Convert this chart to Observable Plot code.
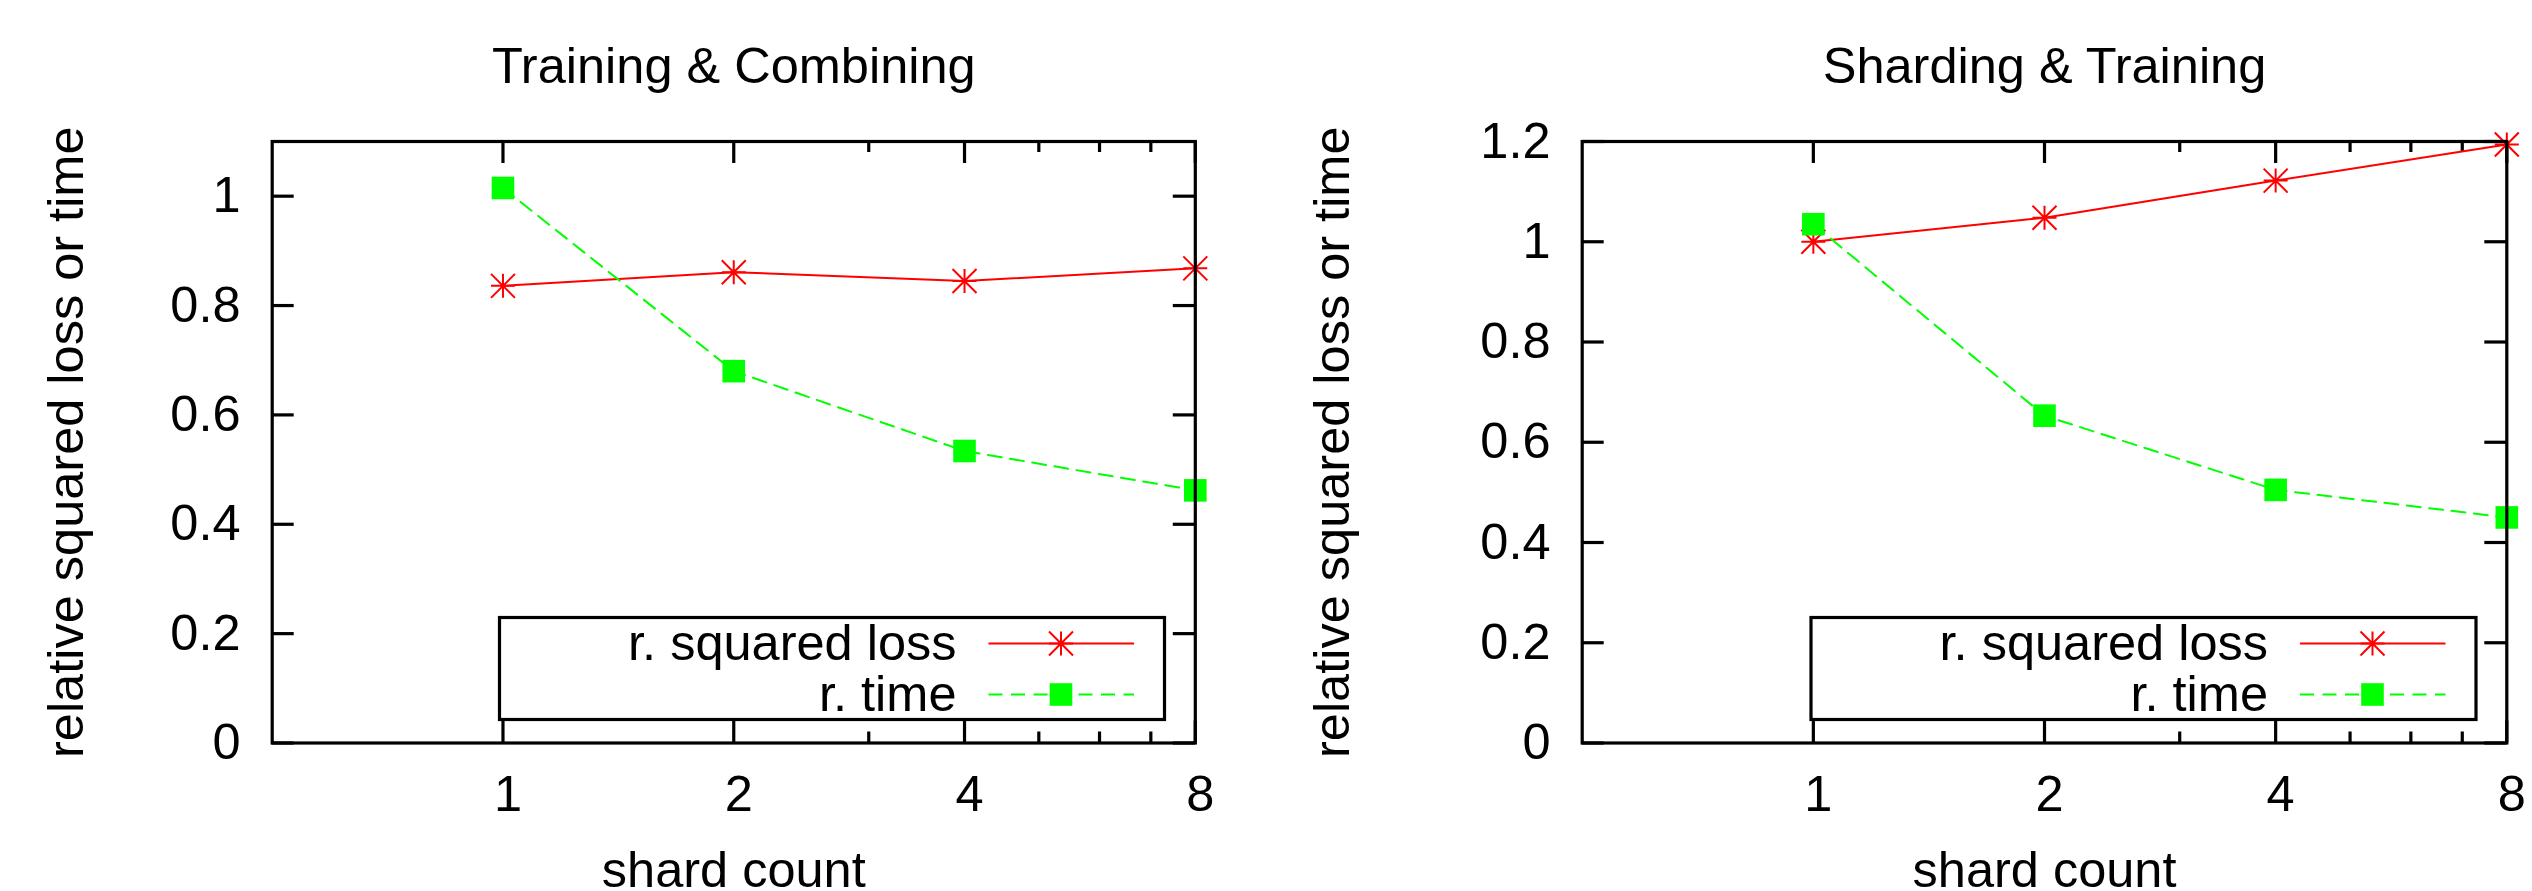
<!DOCTYPE html>
<html><head><meta charset="utf-8">
<script src="https://cdn.jsdelivr.net/npm/d3@7"></script>
<script src="https://cdn.jsdelivr.net/npm/@observablehq/plot@0.6"></script>
<style>
body{margin:0;background:#fff;}
#wrap{display:flex;width:2532px;height:891px;background:#fff;}
svg{display:block;}
</style></head><body><div id="wrap"></div>
<script>
// ---- data ----
const shardCounts = [1, 2, 4, 8];
const minorShardTicks = [3, 5, 6, 7];
const seriesNames = ["r. squared loss", "r. time"];
const panelTitles = ["Training & Combining", "Sharding & Training"];
const trainCombineLoss = [0.836, 0.861, 0.845, 0.868];
const trainCombineTime = [1.015, 0.680, 0.534, 0.462];
const shardTrainLoss = [1.000, 1.048, 1.122, 1.194];
const shardTrainTime = [1.035, 0.653, 0.505, 0.450];
const leftYTicks = [0, 0.2, 0.4, 0.6, 0.8, 1];
const rightYTicks = [0, 0.2, 0.4, 0.6, 0.8, 1, 1.2];
const xLabel = "shard count";
const yLabel = "relative squared loss or time";

// ---- styling ----
const FONT = "'Liberation Sans', Arial, Helvetica, sans-serif";
const FS = 50.5;
const RED = "#ff0000", GREEN = "#00ff00";
const DASH = "14,8.5";
const W = 1266, H = 891, MT = 141, MB = 148.5;

const asterisk8 = {draw(ctx, size) {
  const r = Math.sqrt(size / Math.PI);
  ctx.moveTo(-r, 0); ctx.lineTo(r, 0);
  ctx.moveTo(0, -r); ctx.lineTo(0, r);
  ctx.moveTo(-r, -r); ctx.lineTo(r, r);
  ctx.moveTo(-r, r); ctx.lineTo(r, -r);
}};
const squareSym = {draw(ctx, size) {
  const r = Math.sqrt(size / Math.PI);
  ctx.moveTo(-r, -r); ctx.lineTo(r, -r); ctx.lineTo(r, r); ctx.lineTo(-r, r); ctx.closePath();
}};
const STAR_R = 12, SQ_R = 11.3;

function panel(title, loss, time, yMax, yTicks, marginLeft, marginRight) {
  const fw = W - marginLeft - marginRight, fh = H - MT - MB;
  const lossRows = shardCounts.map((s, i) => ({s, v: loss[i]}));
  const timeRows = shardCounts.map((s, i) => ({s, v: time[i]}));
  const tk = {stroke: "black", strokeWidth: 3.2};
  const svg = Plot.plot({
    width: W, height: H,
    marginLeft, marginRight, marginTop: MT, marginBottom: MB,
    style: {fontFamily: FONT, fontSize: FS + "px", background: "white", overflow: "visible"},
    x: {type: "log", base: 2, domain: [0.5, 8], axis: null},
    y: {domain: [0, yMax], axis: null},
    marks: [
      // inward ticks on all four sides
      Plot.tickX(shardCounts, {x: d => d, insetTop: fh - 22, ...tk}),
      Plot.tickX(shardCounts, {x: d => d, insetBottom: fh - 22, ...tk}),
      Plot.tickX(minorShardTicks, {x: d => d, insetTop: fh - 11, ...tk}),
      Plot.tickX(minorShardTicks, {x: d => d, insetBottom: fh - 11, ...tk}),
      Plot.tickY(yTicks, {y: d => d, insetRight: fw - 22, ...tk}),
      Plot.tickY(yTicks, {y: d => d, insetLeft: fw - 22, ...tk}),
      // tick labels
      Plot.text(shardCounts, {x: d => d, text: d => String(d), frameAnchor: "bottom", dy: 68.2, dx: 5,
        lineAnchor: "bottom", fontSize: FS, fill: "black"}),
      Plot.text(yTicks, {y: d => d, text: d => String(d), frameAnchor: "left", dx: -31.7,
        textAnchor: "end", lineAnchor: "middle", fontSize: FS, fill: "black"}),
      // titles and axis labels
      Plot.text([title], {frameAnchor: "top", dy: -58.7, lineAnchor: "bottom", textAnchor: "middle",
        fontSize: FS, fill: "black"}),
      Plot.text([xLabel], {frameAnchor: "bottom", dy: 144.2, lineAnchor: "bottom", textAnchor: "middle",
        fontSize: FS, fill: "black"}),
      Plot.text([yLabel], {frameAnchor: "left", dx: 82 - marginLeft, rotate: -90, lineAnchor: "bottom",
        textAnchor: "middle", fontSize: FS, fill: "black"}),
      // data
      Plot.line(lossRows, {x: "s", y: "v", stroke: RED, strokeWidth: 2}),
      Plot.dot(lossRows, {x: "s", y: "v", r: STAR_R, symbol: asterisk8, stroke: RED, fill: "none", strokeWidth: 2}),
      Plot.line(timeRows, {x: "s", y: "v", stroke: GREEN, strokeWidth: 2, strokeDasharray: DASH}),
      Plot.dot(timeRows, {x: "s", y: "v", r: SQ_R, symbol: squareSym, fill: GREEN, stroke: "none"}),
      Plot.frame({stroke: "black", strokeWidth: 3.2})
    ]
  });
  addLegend(svg, W - marginRight, H - MB);
  return svg;
}

function addLegend(svg, fr, fb) {
  const g = d3.select(svg).append("g").attr("font-family", FONT).attr("font-size", FS);
  const right = fr - 30.3, left = right - 665, bottom = fb - 23, top = bottom - 102;
  g.append("rect").attr("x", left).attr("y", top).attr("width", right - left).attr("height", bottom - top)
    .attr("fill", "none").attr("stroke", "black").attr("stroke-width", 3.2);
  const rowsY = [top + 26, top + 77];
  const styles = [
    {stroke: RED, dash: null, sym: asterisk8, r: STAR_R, fill: "none", sstroke: RED},
    {stroke: GREEN, dash: DASH, sym: squareSym, r: SQ_R, fill: GREEN, sstroke: "none"}
  ];
  seriesNames.forEach((name, i) => {
    const y = rowsY[i], st = styles[i];
    g.append("text").attr("x", right - 208).attr("y", y + 16.8).attr("text-anchor", "end")
      .attr("fill", "black").text(name);
    g.append("line").attr("x1", right - 176).attr("x2", right - 30.5).attr("y1", y).attr("y2", y)
      .attr("stroke", st.stroke).attr("stroke-width", 2).attr("stroke-dasharray", st.dash);
    g.append("path").attr("transform", `translate(${right - 103.5},${y})`)
      .attr("d", d3.symbol(st.sym, st.r * st.r * Math.PI)())
      .attr("fill", st.fill).attr("stroke", st.sstroke).attr("stroke-width", 2);
  });
}

const wrap = document.getElementById("wrap");
wrap.append(panel(panelTitles[0], trainCombineLoss, trainCombineTime, 1.1, leftYTicks, 271.7, 71.2));
wrap.append(panel(panelTitles[1], shardTrainLoss, shardTrainTime, 1.2, rightYTicks, 315.7, 25.7));
</script></body></html>
